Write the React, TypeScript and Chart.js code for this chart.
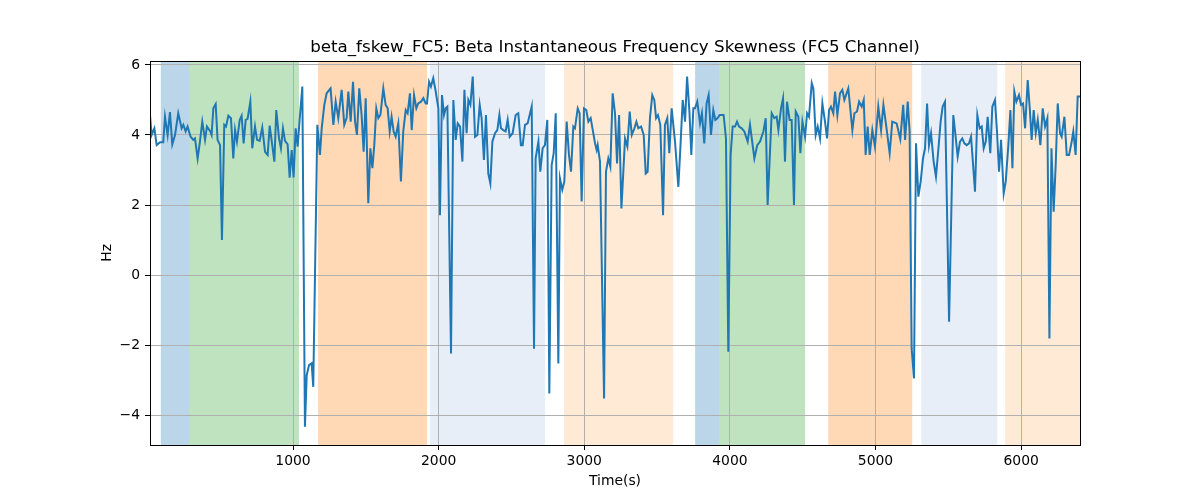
import React, { useEffect, useRef } from "react";
import { Chart, registerables } from "chart.js";

Chart.register(...registerables);

// time stamps (s) and beta skewness values (Hz)
const times = [
  18, 29, 48, 64, 87, 109, 121, 139, 155, 171,
  190, 212, 235, 247, 263, 276, 297, 315, 327, 345,
  361, 377, 396, 409, 432, 441, 453, 469, 482, 499,
  512, 528, 540, 556, 574, 590, 602, 615, 634, 647,
  661, 675, 688, 707, 720, 739, 753, 771, 789, 808,
  826, 840, 872, 885, 904, 917, 931, 945, 963, 977,
  991, 1004, 1018, 1032, 1048, 1064, 1082, 1094, 1110, 1128,
  1139, 1167, 1185, 1197, 1215, 1231, 1258, 1277, 1293, 1311,
  1334, 1352, 1368, 1380, 1396, 1412, 1426, 1439, 1455, 1471,
  1485, 1499, 1517, 1531, 1545, 1558, 1572, 1586, 1600, 1620,
  1636, 1650, 1664, 1677, 1691, 1705, 1723, 1741, 1757, 1774,
  1787, 1803, 1815, 1831, 1847, 1860, 1879, 1895, 1911, 1920,
  1934, 1947, 1963, 1980, 1998, 2009, 2023, 2037, 2048, 2060,
  2085, 2101, 2117, 2131, 2147, 2163, 2177, 2192, 2204, 2218,
  2234, 2250, 2266, 2282, 2295, 2311, 2325, 2341, 2355, 2369,
  2387, 2403, 2417, 2428, 2444, 2460, 2474, 2488, 2508, 2529,
  2547, 2565, 2577, 2593, 2611, 2639, 2655, 2666, 2685, 2698,
  2714, 2730, 2746, 2760, 2776, 2790, 2804, 2822, 2833, 2849,
  2863, 2879, 2895, 2909, 2925, 2936, 2955, 2968, 2982, 2998,
  3014, 3028, 3044, 3074, 3085, 3092, 3108, 3136, 3149, 3165,
  3179, 3195, 3211, 3225, 3239, 3255, 3280, 3296, 3312, 3326,
  3344, 3358, 3371, 3390, 3408, 3422, 3435, 3451, 3467, 3481,
  3493, 3506, 3522, 3541, 3554, 3570, 3584, 3600, 3623, 3646,
  3662, 3676, 3692, 3706, 3722, 3735, 3749, 3760, 3776, 3795,
  3808, 3824, 3840, 3854, 3870, 3886, 3900, 3916, 3930, 3946,
  3957, 3973, 3989, 4005, 4019, 4035, 4049, 4063, 4081, 4099,
  4122, 4138, 4168, 4188, 4207, 4230, 4246, 4259, 4287, 4305,
  4321, 4333, 4351, 4365, 4378, 4392, 4410, 4424, 4440, 4452,
  4470, 4484, 4498, 4516, 4530, 4543, 4562, 4573, 4589, 4603,
  4619, 4635, 4653, 4667, 4681, 4694, 4710, 4722, 4738, 4756,
  4772, 4786, 4813, 4841, 4855, 4873, 4887, 4905, 4919, 4932,
  4946, 4960, 4978, 4996, 5019, 5038, 5054, 5074, 5097, 5115,
  5145, 5170, 5190, 5203, 5221, 5234, 5248, 5264, 5278, 5294,
  5310, 5326, 5340, 5354, 5367, 5381, 5399, 5415, 5431, 5447,
  5461, 5477, 5505, 5534, 5550, 5564, 5580, 5596, 5610, 5626,
  5642, 5656, 5683, 5699, 5715, 5729, 5743, 5757, 5770, 5788,
  5802, 5820, 5834, 5848, 5862, 5880, 5894, 5912, 5926, 5940,
  5953, 5967, 5985, 5999, 6013, 6027, 6045, 6059, 6072, 6086,
  6100, 6114, 6132, 6148, 6164, 6180, 6194, 6208, 6223, 6237,
  6251, 6267, 6278, 6297, 6313, 6329, 6347, 6358, 6374, 6388,
  6404,
];

const values = [
  4.57, 4.0, 4.19, 3.71, 3.79, 3.79, 4.52, 4.0, 4.65, 3.73,
  4.0, 4.62, 4.19, 4.29, 4.1, 4.24, 3.95, 3.86, 3.9, 3.33,
  3.81, 4.38, 3.86, 4.24, 4.1, 4.0, 4.76, 4.88, 3.86, 3.71,
  1.0, 4.29, 4.24, 4.55, 4.48, 3.33, 4.14, 3.81, 4.43, 4.55,
  3.76, 4.43, 4.46, 4.95, 3.62, 4.24, 3.86, 3.83, 4.21, 3.52,
  3.43, 4.27, 3.24, 4.71, 3.9, 3.62, 4.19, 3.83, 3.73, 2.78,
  3.57, 2.79, 4.19, 3.67, 4.57, 5.38, -4.33, -2.86, -2.57, -2.52,
  -3.19, 4.29, 3.43, 4.19, 4.86, 5.19, 5.33, 4.29, 4.95, 4.48,
  5.29, 4.29, 4.48, 5.24, 4.38, 5.52, 4.38, 4.0, 5.33, 4.57,
  3.52, 5.05, 2.05, 3.62, 3.05, 3.71, 4.76, 4.48, 4.57, 5.33,
  4.86, 4.76, 4.1, 4.52, 4.1, 3.95, 4.33, 2.67, 4.1, 4.71,
  4.62, 5.19, 4.14, 5.14, 4.76, 4.9, 4.95, 5.05, 4.9, 4.9,
  5.52, 5.38, 5.62, 5.24, 4.76, 1.71, 5.14, 4.57, 4.76, 4.81,
  -2.24, 5.0, 3.86, 4.33, 4.24, 3.24, 5.29, 4.05, 5.0, 4.86,
  5.67, 3.95, 4.0, 4.86, 4.48, 3.29, 4.57, 2.9, 2.62, 3.81,
  4.05, 4.14, 4.57, 4.19, 4.14, 4.1, 4.43, 3.95, 4.05, 4.57,
  4.62, 3.71, 3.71, 4.29, 4.33, 4.81, -2.1, 3.33, 3.81, 2.95,
  3.62, 3.71, 4.43, -3.38, 3.14, 3.48, 4.62, -2.52, 2.76, 2.43,
  2.67, 4.38, 3.43, 2.95, 4.24, 4.19, 4.76, 4.62, 2.1, 4.76,
  4.71, 4.38, 4.48, 3.76, 3.57, 3.71, 3.24, -3.52, 2.95, 3.33,
  3.1, 5.19, 4.62, 3.19, 4.57, 1.9, 3.9, 3.67, 4.67, 4.0,
  4.19, 4.38, 4.19, 4.24, 4.0, 2.9, 2.95, 4.48, 5.14, 5.0,
  4.48, 4.57, 4.29, 1.71, 4.29, 4.48, 3.48, 4.76, 3.81, 2.52,
  3.81, 5.0, 4.38, 5.67, 4.67, 3.43, 4.76, 4.76, 4.95, 4.33,
  4.62, 3.76, 4.9, 5.14, 4.0, 4.71, 4.43, 4.48, 4.57, 4.57,
  4.57, 3.9, -2.19, 3.43, 4.24, 4.24, 4.38, 4.24, 4.19, 4.1,
  3.81, 4.29, 3.33, 3.71, 3.81, 4.1, 4.48, 2.0, 4.62, 4.48,
  4.52, 4.14, 4.76, 5.05, 3.24, 4.95, 4.43, 4.43, 2.0, 4.67,
  4.52, 3.48, 4.38, 3.95, 4.62, 4.52, 5.48, 5.33, 4.0, 4.24,
  3.9, 4.9, 4.38, 3.9, 4.71, 4.81, 4.62, 5.24, 4.57, 5.19,
  5.29, 5.0, 5.33, 4.14, 4.62, 4.67, 4.95, 4.81, 5.0, 3.43,
  4.24, 3.43, 4.14, 3.67, 4.81, 4.14, 4.86, 4.24, 3.48, 4.38,
  4.33, 3.88, 4.86, 3.86, 4.95, 4.1, -2.1, -2.95, 3.76, 2.24,
  2.67, 3.33, 3.62, 4.9, 3.71, 4.05, 3.24, 2.81, 3.57, 4.38,
  4.81, 4.95, -1.33, 4.57, 3.95, 3.38, 3.81, 3.9, 3.76, 3.71,
  3.76, 3.95, 2.38, 4.57, 4.19, 4.24, 3.62, 3.81, 4.52, 3.48,
  4.81, 5.0, 4.1, 2.95, 3.86, 2.33, 2.67, 3.71, 4.71, 3.05,
  5.24, 4.95, 5.14, 4.86, 4.9, 4.19, 5.57, 4.76, 3.86, 4.71,
  4.05, 4.43, 3.71, 4.76, 4.24, 4.48, -1.81, 3.62, 1.81, 3.14,
  4.9, 4.05, 3.95, 4.52, 3.43, 3.43, 3.81, 4.1, 3.43, 5.1,
  5.1,
];

const xTicks = [1000, 2000, 3000, 4000, 5000, 6000];
const yTicks = [-4, -2, 0, 2, 4, 6];

const TITLE = "beta_fskew_FC5: Beta Instantaneous Frequency Skewness (FC5 Channel)";

// shaded intervals (s)
const spanStart = [92, 286, 1172, 1941, 2861, 3761, 3926, 4675, 5314, 5890];
const spanEnd = [286, 1041, 1920, 2731, 3610, 3926, 4516, 5252, 5836, 6404];
const spanKind = ["blue", "green", "orange", "paleBlue", "paleOrange", "blue", "green", "orange", "paleBlue", "paleOrange"];

const spanColors: Record<string, string> = {
  blue: "rgba(31, 119, 180, 0.3)",
  green: "rgba(44, 160, 44, 0.3)",
  orange: "rgba(255, 127, 14, 0.3)",
  paleBlue: "rgba(174, 199, 232, 0.3)",
  paleOrange: "rgba(255, 187, 120, 0.3)",
};

const FONT = "'DejaVu Sans', sans-serif";

const spansPlugin = {
  id: "spans",
  beforeDraw(chart: any) {
    const { ctx, chartArea, scales } = chart;
    const xs = scales.x;
    ctx.save();
    ctx.beginPath();
    ctx.rect(chartArea.left, chartArea.top, chartArea.right - chartArea.left, chartArea.bottom - chartArea.top);
    ctx.clip();
    spanStart.forEach((s, i) => {
      const x0 = xs.getPixelForValue(s);
      const x1 = xs.getPixelForValue(spanEnd[i]);
      ctx.fillStyle = spanColors[spanKind[i]];
      ctx.fillRect(x0, chartArea.top, x1 - x0, chartArea.bottom - chartArea.top);
    });
    ctx.restore();
  },
};

// frame around the plot area and a title centred over it (like matplotlib)
const framePlugin = {
  id: "frame",
  afterDraw(chart: any) {
    const { ctx, chartArea } = chart;
    ctx.save();
    ctx.strokeStyle = "#000";
    ctx.lineWidth = 1;
    ctx.strokeRect(
      Math.round(chartArea.left) + 0.5,
      Math.round(chartArea.top) + 0.5,
      Math.round(chartArea.right - chartArea.left),
      Math.round(chartArea.bottom - chartArea.top)
    );
    ctx.fillStyle = "#000";
    ctx.font = `16.7px ${FONT}`;
    ctx.textAlign = "center";
    ctx.textBaseline = "alphabetic";
    ctx.fillText(TITLE, (chartArea.left + chartArea.right) / 2, 52);
    ctx.restore();
  },
};

export default function App() {
  const canvasRef = useRef<HTMLCanvasElement | null>(null);
  const chartRef = useRef<Chart | null>(null);

  useEffect(() => {
    document.body.style.margin = "0";
    if (!canvasRef.current) return;

    chartRef.current = new Chart(canvasRef.current, {
      type: "line",
      data: {
        datasets: [
          {
            label: "beta_fskew_FC5",
            data: times.map((t, i) => ({ x: t, y: values[i] })),
            borderColor: "#1f77b4",
            borderWidth: 2,
            pointRadius: 0,
            tension: 0,
            fill: false,
          },
        ],
      },
      options: {
        animation: false,
        responsive: false,
        layout: { padding: { top: 60.7, right: 120, left: 0, bottom: 0 } },
        plugins: {
          legend: { display: false },
          tooltip: { enabled: false },
          title: { display: false },
        },
        scales: {
          x: {
            type: "linear",
            min: 18,
            max: 6404,
            afterBuildTicks: (s: any) => {
              s.ticks = xTicks.map((v) => ({ value: v }));
            },
            ticks: {
              autoSkip: false,
              color: "#000",
              font: { family: FONT, size: 13.9 },
              padding: 3,
              maxRotation: 0,
              callback: (v: any) => String(v),
            },
            grid: { color: "#b0b0b0", lineWidth: 1, tickColor: "#000", tickLength: 5, drawTicks: true },
            border: { display: false },
            title: {
              display: true,
              text: "Time(s)",
              color: "#000",
              font: { family: FONT, size: 13.9 },
              padding: { top: 0, bottom: 10.7 },
            },
            afterFit: (s: any) => {
              s.height = 55;
            },
          },
          y: {
            min: -4.85,
            max: 6.12,
            afterBuildTicks: (s: any) => {
              s.ticks = yTicks.map((v) => ({ value: v }));
            },
            ticks: {
              autoSkip: false,
              color: "#000",
              font: { family: FONT, size: 13.9 },
              padding: 5,
              callback: (v: any) => (v < 0 ? "\u2212" + Math.abs(v) : String(v)),
            },
            grid: { color: "#b0b0b0", lineWidth: 1, tickColor: "#000", tickLength: 5, drawTicks: true },
            border: { display: false },
            title: {
              display: true,
              text: "Hz",
              color: "#000",
              font: { family: FONT, size: 13.9 },
              padding: { top: 98.7, bottom: 0 },
            },
            afterFit: (s: any) => {
              s.width = 150;
            },
          },
        },
      },
      plugins: [spansPlugin, framePlugin],
    });

    return () => {
      chartRef.current?.destroy();
      chartRef.current = null;
    };
  }, []);

  return (
    <div style={{ width: 1200, height: 500, background: "#fff" }}>
      <canvas ref={canvasRef} width={1200} height={500} />
    </div>
  );
}
